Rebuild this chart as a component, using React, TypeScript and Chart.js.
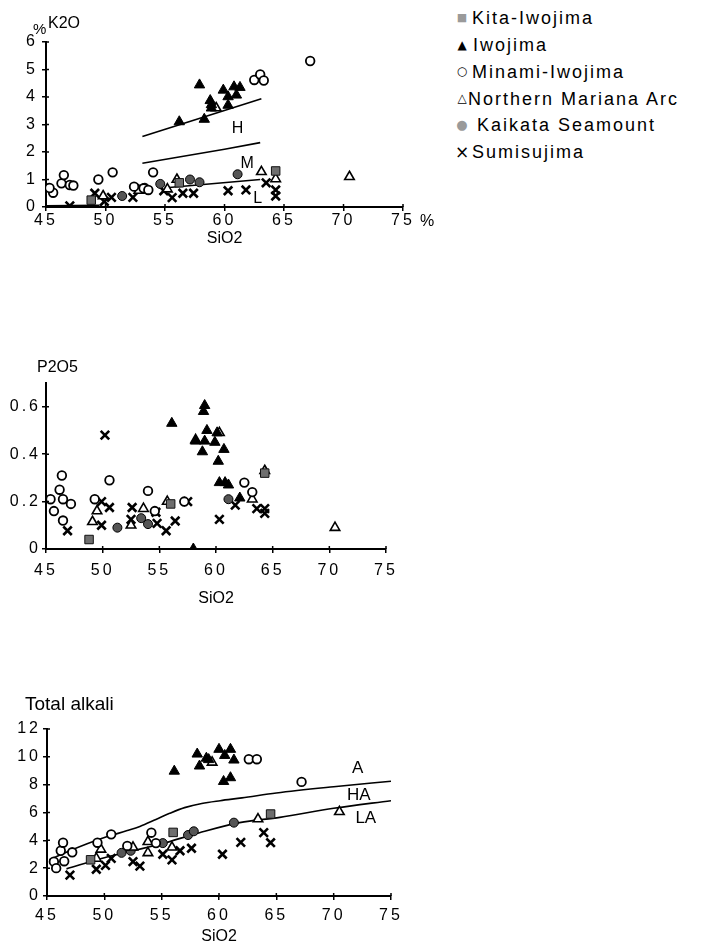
import React, { useEffect, useRef } from "react";
import { Chart, registerables } from "chart.js";

Chart.register(...registerables);

const FONT = "'Liberation Sans', Arial, Helvetica, sans-serif";

// ---------- tick labels ----------
const sio2Ticks = [45, 50, 55, 60, 65, 70, 75];
const k2oTicks = [0, 1, 2, 3, 4, 5, 6];
const p2o5Ticks = [0, 0.2, 0.4, 0.6];
const alkaliTicks = [0, 2, 4, 6, 8, 10, 12];

// ---------- series ----------
const seriesNames = [
  "Kita-Iwojima",
  "Iwojima",
  "Minami-Iwojima",
  "Northern Mariana Arc",
  "Kaikata Seamount",
  "Sumisujima",
];

// K2O vs SiO2  [SiO2, K2O]
const kitaK2O = [[56.2, 0.88], [64.3, 1.31], [48.8, 0.25]];
const iwoK2O = [[56.2, 3.1], [57.9, 4.44], [58.3, 3.19], [58.8, 3.87], [58.9, 3.72], [58.9, 3.6], [59.9, 4.25], [60.3, 4.01], [60.3, 3.7], [60.8, 4.37], [61.0, 4.07], [61.3, 4.35]];
const minamiK2O = [[45.6, 0.52], [45.3, 0.69], [46.3, 0.86], [46.5, 1.16], [47.0, 0.8], [47.3, 0.78], [49.4, 1.0], [50.6, 1.26], [54.0, 1.26], [53.2, 0.68], [53.6, 0.62], [52.4, 0.74], [62.5, 4.62], [63.0, 4.82], [63.3, 4.6], [67.2, 5.31]];
const marianaK2O = [[63.1, 1.28], [70.5, 1.1], [56.0, 1.0], [64.3, 1.02], [59.3, 3.6], [49.8, 0.4], [52.8, 0.6], [55.2, 0.65]];
const kaikataK2O = [[57.1, 1.0], [61.1, 1.19], [51.4, 0.4], [54.6, 0.84], [57.9, 0.9], [53.3, 0.7]];
const sumiK2O = [[47.0, 0.04], [49.1, 0.5], [50.5, 0.35], [52.3, 0.35], [49.9, 0.2], [53.0, 0.66], [54.9, 0.59], [55.6, 0.34], [56.5, 0.5], [57.4, 0.5], [60.3, 0.59], [61.8, 0.62], [63.5, 0.88], [64.3, 0.62], [64.3, 0.4]];
const k2oLineHigh = [[53.1, 2.56], [63.1, 3.94]];
const k2oLineMid = [[53.1, 1.59], [56.3, 1.83], [60, 2.1], [63, 2.34]];
const k2oLineLow = [[55.1, 0.7], [63, 1.0]];
const k2oLineBase = [[45, 0.04], [49.5, 0.06]];
const k2oNotes = [{ t: "H", x: 61.1, y: 2.86 }, { t: "M", x: 61.9, y: 1.59 }, { t: "L", x: 62.8, y: 0.29 }];

// P2O5 vs SiO2
const kitaP2O5 = [[48.8, 0.04], [56.0, 0.19], [64.3, 0.32]];
const iwoP2O5 = [[56.1, 0.53], [58.0, 0.0], [58.2, 0.455], [58.8, 0.41], [58.9, 0.58], [59.0, 0.605], [59.0, 0.455], [59.2, 0.5], [59.9, 0.45], [60.1, 0.49], [60.2, 0.37], [60.7, 0.42], [60.3, 0.28], [60.8, 0.28], [61.1, 0.27], [62.1, 0.215]];
const minamiP2O5 = [[45.4, 0.21], [45.7, 0.16], [46.2, 0.25], [46.4, 0.31], [46.5, 0.21], [47.2, 0.19], [46.5, 0.12], [49.3, 0.21], [50.6, 0.29], [54.0, 0.245], [62.5, 0.28], [63.2, 0.24], [54.6, 0.16], [57.2, 0.2]];
const marianaP2O5 = [[49.1, 0.115], [49.5, 0.16], [52.5, 0.1], [53.6, 0.17], [55.7, 0.2], [70.5, 0.09], [63.2, 0.21], [64.3, 0.33], [60.3, 0.49], [58.2, 0.46]];
const kaikataP2O5 = [[51.3, 0.09], [53.4, 0.13], [54.0, 0.105], [61.1, 0.21]];
const sumiP2O5 = [[46.9, 0.077], [50.2, 0.48], [49.9, 0.2], [49.9, 0.1], [50.6, 0.175], [52.6, 0.175], [52.5, 0.125], [54.7, 0.155], [54.8, 0.108], [55.6, 0.077], [56.4, 0.118], [57.5, 0.2], [60.3, 0.125], [61.7, 0.185], [63.6, 0.17], [64.3, 0.17], [64.3, 0.15]];

// Total alkali vs SiO2
const kitaAlk = [[56.0, 4.57], [64.5, 5.89], [48.8, 2.6]];
const iwoAlk = [[56.1, 8.97], [58.1, 10.2], [58.3, 9.34], [58.9, 9.9], [59.1, 9.8], [60.0, 10.54], [60.5, 10.1], [61.0, 10.54], [61.3, 9.77], [60.4, 8.23], [61.0, 8.5]];
const minamiAlk = [[45.6, 2.47], [46.2, 3.25], [46.4, 3.83], [47.2, 3.14], [45.8, 2.0], [46.5, 2.5], [49.4, 3.83], [50.6, 4.43], [54.1, 4.55], [52.0, 3.6], [54.5, 3.8], [62.6, 9.83], [63.3, 9.83], [67.2, 8.2]];
const marianaAlk = [[49.7, 3.35], [49.3, 2.7], [52.5, 3.5], [53.8, 3.1], [53.8, 3.9], [55.9, 3.5], [63.4, 5.53], [70.5, 6.05], [59.4, 9.6]];
const kaikataAlk = [[57.3, 4.38], [57.8, 4.65], [61.3, 5.27], [51.5, 3.1], [52.3, 3.25], [55.1, 3.8]];
const sumiAlk = [[47.0, 1.5], [49.3, 1.92], [50.1, 2.2], [50.6, 2.7], [52.5, 2.47], [53.1, 2.15], [55.1, 3.0], [55.9, 2.6], [56.6, 3.25], [57.6, 3.43], [60.3, 3.0], [61.9, 3.85], [63.9, 4.55], [64.5, 3.83]];
const alkLineUpper = [[45.2, 2.6], [47, 3.25], [48.5, 3.75], [50.2, 4.25], [52, 4.7], [53.1, 5.0], [54.5, 5.5], [55.7, 5.94], [57, 6.35], [58.5, 6.65], [60.1, 6.85], [62, 7.05], [65, 7.4], [70, 7.85], [75, 8.25]];
const alkLineLower = [[46.7, 1.95], [50, 2.75], [55, 3.75], [58.3, 4.55], [61.8, 5.27], [65.3, 5.65], [70, 6.3], [75, 6.85]];
const alkNotes = [{ t: "A", x: 72.1, y: 9.17 }, { t: "HA", x: 72.2, y: 7.2 }, { t: "LA", x: 72.8, y: 5.58 }];

// ---------- styles ----------
const seriesStyles: any[] = [
  { pointStyle: "rect", backgroundColor: "#6e6e6e", borderColor: "#111", pointRadius: 6, borderWidth: 1 },
  { pointStyle: "triangle", backgroundColor: "#000", borderColor: "#000", pointRadius: 6, borderWidth: 1 },
  { pointStyle: "circle", backgroundColor: "#fff", borderColor: "#000", pointRadius: 4.3, borderWidth: 1.8 },
  { pointStyle: "triangle", backgroundColor: "#fff", borderColor: "#000", pointRadius: 5.5, borderWidth: 1.6 },
  { pointStyle: "circle", backgroundColor: "#555", borderColor: "#000", pointRadius: 4.5, borderWidth: 1 },
  { pointStyle: "crossRot", backgroundColor: "#000", borderColor: "#000", pointRadius: 6, borderWidth: 2.6 },
];

const toXY = (a: number[][]) => a.map(([x, y]) => ({ x, y }));

function makeNotesPlugin(items: { t: string; x: number; y: number }[], size: number) {
  return {
    id: "notes",
    afterDatasetsDraw(chart: any) {
      const { ctx, scales } = chart;
      ctx.save();
      ctx.font = `${size}px ${FONT}`;
      ctx.fillStyle = "#000";
      ctx.textAlign = "center";
      ctx.textBaseline = "middle";
      items.forEach((n) => ctx.fillText(n.t, scales.x.getPixelForValue(n.x), scales.y.getPixelForValue(n.y)));
      ctx.restore();
    },
  };
}

// inward half of the crossing tick marks
const innerTicksPlugin = {
  id: "innerTicks",
  afterDatasetsDraw(chart: any) {
    const { ctx, scales, chartArea } = chart;
    ctx.save();
    ctx.strokeStyle = "#000";
    ctx.lineWidth = 1.5;
    ctx.beginPath();
    scales.x.ticks.forEach((t: any) => {
      const px = scales.x.getPixelForValue(t.value);
      ctx.moveTo(px, chartArea.bottom);
      ctx.lineTo(px, chartArea.bottom - 3);
    });
    scales.y.ticks.forEach((t: any) => {
      const py = scales.y.getPixelForValue(t.value);
      ctx.moveTo(chartArea.left, py);
      ctx.lineTo(chartArea.left + 3, py);
    });
    ctx.stroke();
    ctx.restore();
  },
};

const spacingPlugin = {
  id: "tickSpacing",
  afterDatasetsDraw(chart: any) {
    chart.ctx.letterSpacing = "3px";
  },
  afterDraw(chart: any) {
    chart.ctx.letterSpacing = "0px";
  },
};

type PanelCfg = {
  series: number[][][];
  lines: number[][][];
  tension: number;
  notes: { t: string; x: number; y: number }[];
  noteSize: number;
  yTicks: number[];
  yMax: number;
  areaTop: number;
  areaLeft: number;
  padRight: number;
  xHeight: number;
  xPad: number;
  yPad: number;
};

function buildConfig(p: PanelCfg): any {
  const datasets: any[] = p.series.map((pts, i) => ({
    label: seriesNames[i],
    data: toXY(pts),
    showLine: false,
    order: 1,
    ...seriesStyles[i],
  }));
  p.lines.forEach((l) =>
    datasets.push({
      label: "",
      data: toXY(l),
      showLine: true,
      pointRadius: 0,
      borderColor: "#000",
      borderWidth: 1.6,
      fill: false,
      tension: p.tension,
      cubicInterpolationMode: p.tension > 0 ? "monotone" : "default",
      order: 5,
    })
  );
  const tickFont = { family: FONT, size: 16 };
  return {
    type: "scatter",
    data: { datasets },
    options: {
      responsive: false,
      animation: false,
      devicePixelRatio: 1,
      events: [],
      layout: { padding: { left: 0, top: p.areaTop, right: p.padRight, bottom: 0 } },
      plugins: { legend: { display: false }, tooltip: { enabled: false } },
      scales: {
        x: {
          type: "linear",
          min: 45,
          max: 75,
          afterBuildTicks: (s: any) => {
            s.ticks = sio2Ticks.map((v) => ({ value: v }));
          },
          afterFit: (s: any) => {
            s.height = p.xHeight;
          },
          grid: { drawOnChartArea: false, drawTicks: true, tickLength: 4, color: "#000", lineWidth: 1.5 },
          border: { color: "#000", width: 2 },
          ticks: { z: 1, color: "#000", font: tickFont, padding: p.xPad, maxRotation: 0, autoSkip: false, callback: (v: any) => String(v) },
          title: { display: true, text: "SiO2", color: "#000", font: { family: FONT, size: 16 }, padding: { top: 0, bottom: 4 } },
        },
        y: {
          type: "linear",
          min: 0,
          max: p.yMax,
          afterBuildTicks: (s: any) => {
            s.ticks = p.yTicks.map((v) => ({ value: v }));
          },
          afterFit: (s: any) => {
            s.width = p.areaLeft;
          },
          grid: { drawOnChartArea: false, drawTicks: true, tickLength: 4, color: "#000", lineWidth: 1.5 },
          border: { color: "#000", width: 2 },
          ticks: { z: 1, color: "#000", font: tickFont, padding: p.yPad, autoSkip: false, callback: (v: any) => String(v) },
        },
      },
    },
    plugins: [makeNotesPlugin(p.notes, p.noteSize), innerTicksPlugin, spacingPlugin],
  };
}

function Panel({ top, height, cfg }: { top: number; height: number; cfg: PanelCfg }) {
  const ref = useRef<HTMLCanvasElement>(null);
  useEffect(() => {
    const chart = new Chart(ref.current as HTMLCanvasElement, buildConfig(cfg));
    return () => chart.destroy();
  }, []);
  return (
    <canvas
      ref={ref}
      width={440}
      height={height}
      style={{ position: "absolute", left: 0, top, width: 440, height }}
    />
  );
}

function Label({ x, y, size, spacing, children }: { x: number; y: number; size: number; spacing?: number; children: any }) {
  return (
    <div
      style={{
        position: "absolute",
        left: x,
        top: y - 0.49 * size,
        fontFamily: FONT,
        fontSize: size,
        lineHeight: 1,
        letterSpacing: spacing ? `${spacing}px` : undefined,
        whiteSpace: "nowrap",
        color: "#000",
      }}
    >
      {children}
    </div>
  );
}

const legendMarkers = [
  { ch: "■", color: "#9a9a9a", size: 11 },
  { ch: "▲", color: "#000", size: 12 },
  { ch: "○", color: "#000", size: 12 },
  { ch: "△", color: "#000", size: 12 },
  { ch: "●", color: "#9a9a9a", size: 13 },
  { ch: "×", color: "#000", size: 17 },
];
const legendTextX = [472, 473, 472, 468, 477, 472];

const panelK2O: PanelCfg = {
  series: [kitaK2O, iwoK2O, minamiK2O, marianaK2O, kaikataK2O, sumiK2O],
  lines: [k2oLineHigh, k2oLineMid, k2oLineLow, k2oLineBase],
  tension: 0,
  notes: k2oNotes,
  noteSize: 16,
  yTicks: k2oTicks,
  yMax: 6,
  areaTop: 42,
  areaLeft: 46,
  padRight: 37,
  xHeight: 45,
  xPad: 0,
  yPad: 4,
};

const panelP2O5: PanelCfg = {
  series: [kitaP2O5, iwoP2O5, minamiP2O5, marianaP2O5, kaikataP2O5, sumiP2O5],
  lines: [],
  tension: 0,
  notes: [],
  noteSize: 16,
  yTicks: p2o5Ticks,
  yMax: 0.7,
  areaTop: 53,
  areaLeft: 46,
  padRight: 54,
  xHeight: 63,
  xPad: 8,
  yPad: 1,
};

const panelAlk: PanelCfg = {
  series: [kitaAlk, iwoAlk, minamiAlk, marianaAlk, kaikataAlk, sumiAlk],
  lines: [alkLineUpper, alkLineLower],
  tension: 0.4,
  notes: alkNotes,
  noteSize: 17,
  yTicks: alkaliTicks,
  yMax: 12,
  areaTop: 49,
  areaLeft: 47,
  padRight: 49,
  xHeight: 54,
  xPad: 6,
  yPad: 2,
};

export default function App() {
  return (
    <div
      style={{
        position: "absolute",
        left: 0,
        top: 0,
        width: 701,
        height: 948,
        overflow: "hidden",
        background: "#fff",
      }}
    >
      <Panel top={0} height={252} cfg={panelK2O} />
      <Panel top={330} height={282} cfg={panelP2O5} />
      <Panel top={680} height={270} cfg={panelAlk} />

      <Label x={33} y={28} size={15}>%</Label>
      <Label x={48} y={23} size={16}>K2O</Label>
      <Label x={420} y={221} size={16}>%</Label>
      <Label x={37} y={367} size={16}>P2O5</Label>
      <Label x={25} y={703} size={19}>Total alkali</Label>

      {seriesNames.map((name, i) => {
        const cy = 18 + i * 26.8;
        const m = legendMarkers[i];
        return (
          <React.Fragment key={name}>
            <div
              style={{
                position: "absolute",
                left: 455,
                top: cy - m.size * 0.6,
                width: 14,
                textAlign: "center",
                fontFamily: "'DejaVu Sans', sans-serif",
                fontSize: m.size,
                lineHeight: `${m.size * 1.2}px`,
                color: m.color,
              }}
            >
              {m.ch}
            </div>
            <Label x={legendTextX[i]} y={cy} size={18} spacing={2}>{name}</Label>
          </React.Fragment>
        );
      })}
    </div>
  );
}
